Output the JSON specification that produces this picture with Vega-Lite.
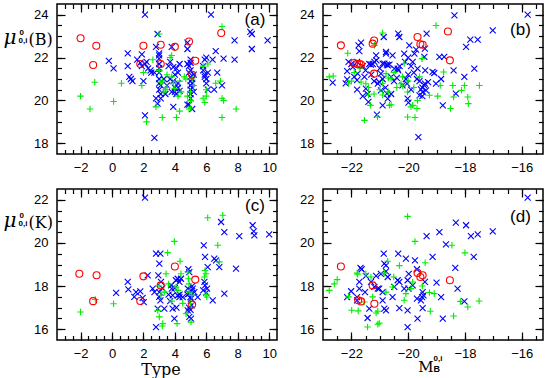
{
"$schema":"https://vega.github.io/schema/vega-lite/v6.json",
"padding":{"left":2,"top":2,"right":0,"bottom":0},
"background":"white",
"config":{
 "view":{"stroke":"black","strokeWidth":1.5},
 "axis":{"domain":false,"grid":false,"ticks":true,"tickColor":"black","tickOpacity":1,"tickWidth":1.2,"zindex":1,"labelColor":"black","labelFont":"Liberation Sans","labelFontSize":13,"labelOverlap":false,"labelFlush":false,"titleColor":"black","titleFont":"DejaVu Serif","titleFontWeight":"normal","titleAngle":0,"titleBaseline":"alphabetic"}
},
"datasets":{
"A":[
{"x":-0.2,"y":21.85,"g":"B"},{"x":0.1,"y":21.5,"g":"B"},{"x":1.0,"y":22.2,"g":"B"},{"x":1.0,"y":21.6,"g":"B"},{"x":1.1,"y":21.1,"g":"B"},{"x":1.2,"y":21.0,"g":"B"},{"x":1.3,"y":20.9,"g":"B"},{"x":1.6,"y":21.9,"g":"B"},{"x":1.8,"y":21.75,"g":"B"},{"x":1.9,"y":21.6,"g":"B"},{"x":1.9,"y":22.15,"g":"B"},{"x":2.0,"y":20.9,"g":"B"},{"x":2.1,"y":24.0,"g":"B"},{"x":2.1,"y":21.7,"g":"B"},{"x":2.2,"y":21.8,"g":"B"},{"x":2.3,"y":21.5,"g":"B"},{"x":2.1,"y":19.3,"g":"B"},{"x":2.5,"y":21.3,"g":"B"},{"x":2.45,"y":21.4,"g":"B"},{"x":2.7,"y":21.3,"g":"B"},{"x":2.7,"y":18.25,"g":"B"},{"x":2.8,"y":20.1,"g":"B"},{"x":2.9,"y":19.85,"g":"B"},{"x":2.8,"y":22.5,"g":"B"},{"x":2.9,"y":23.1,"g":"B"},{"x":3.0,"y":22.2,"g":"B"},{"x":3.0,"y":22.1,"g":"B"},{"x":3.0,"y":21.95,"g":"B"},{"x":3.0,"y":21.7,"g":"B"},{"x":3.0,"y":21.5,"g":"B"},{"x":3.0,"y":21.3,"g":"B"},{"x":3.0,"y":21.0,"g":"B"},{"x":3.0,"y":20.8,"g":"B"},{"x":3.0,"y":20.5,"g":"B"},{"x":3.1,"y":20.3,"g":"B"},{"x":3.1,"y":20.1,"g":"B"},{"x":3.1,"y":20.7,"g":"B"},{"x":3.3,"y":21.0,"g":"B"},{"x":3.4,"y":20.3,"g":"B"},{"x":3.5,"y":20.7,"g":"B"},{"x":3.6,"y":21.6,"g":"B"},{"x":3.7,"y":21.8,"g":"B"},{"x":3.7,"y":21.0,"g":"B"},{"x":3.8,"y":20.4,"g":"B"},{"x":3.8,"y":22.5,"g":"B"},{"x":3.9,"y":19.7,"g":"B"},{"x":3.9,"y":21.55,"g":"B"},{"x":3.9,"y":20.9,"g":"B"},{"x":4.0,"y":21.2,"g":"B"},{"x":4.0,"y":20.6,"g":"B"},{"x":4.0,"y":20.4,"g":"B"},{"x":4.1,"y":20.5,"g":"B"},{"x":4.1,"y":20.3,"g":"B"},{"x":4.1,"y":21.5,"g":"B"},{"x":4.2,"y":20.6,"g":"B"},{"x":4.2,"y":20.8,"g":"B"},{"x":4.2,"y":21.3,"g":"B"},{"x":4.3,"y":21.7,"g":"B"},{"x":4.3,"y":20.45,"g":"B"},{"x":4.8,"y":22.4,"g":"B"},{"x":4.8,"y":22.7,"g":"B"},{"x":4.8,"y":21.7,"g":"B"},{"x":4.9,"y":21.6,"g":"B"},{"x":4.9,"y":21.3,"g":"B"},{"x":5.0,"y":21.75,"g":"B"},{"x":5.0,"y":21.9,"g":"B"},{"x":5.0,"y":21.4,"g":"B"},{"x":5.0,"y":21.1,"g":"B"},{"x":5.0,"y":20.9,"g":"B"},{"x":5.0,"y":20.7,"g":"B"},{"x":5.0,"y":20.5,"g":"B"},{"x":5.0,"y":20.3,"g":"B"},{"x":5.0,"y":20.1,"g":"B"},{"x":4.9,"y":19.8,"g":"B"},{"x":4.8,"y":19.8,"g":"B"},{"x":5.1,"y":19.6,"g":"B"},{"x":5.1,"y":21.0,"g":"B"},{"x":5.1,"y":20.8,"g":"B"},{"x":5.1,"y":20.6,"g":"B"},{"x":5.2,"y":21.2,"g":"B"},{"x":5.2,"y":20.4,"g":"B"},{"x":5.8,"y":21.4,"g":"B"},{"x":5.8,"y":21.6,"g":"B"},{"x":5.9,"y":21.2,"g":"B"},{"x":5.9,"y":21.1,"g":"B"},{"x":6.0,"y":21.0,"g":"B"},{"x":6.0,"y":20.8,"g":"B"},{"x":5.9,"y":21.9,"g":"B"},{"x":6.0,"y":22.0,"g":"B"},{"x":6.1,"y":20.5,"g":"B"},{"x":6.1,"y":21.3,"g":"B"},{"x":6.4,"y":21.9,"g":"B"},{"x":6.6,"y":22.3,"g":"B"},{"x":6.5,"y":20.5,"g":"B"},{"x":6.7,"y":21.3,"g":"B"},{"x":7.0,"y":20.7,"g":"B"},{"x":7.1,"y":21.95,"g":"B"},{"x":7.8,"y":22.8,"g":"B"},{"x":7.8,"y":21.9,"g":"B"},{"x":8.8,"y":23.2,"g":"B"},{"x":8.9,"y":23.1,"g":"B"},{"x":8.9,"y":22.4,"g":"B"},{"x":9.9,"y":22.8,"g":"B"},{"x":6.3,"y":24.0,"g":"B"},
{"x":-2.0,"y":20.2,"g":"G"},{"x":-1.1,"y":20.85,"g":"G"},{"x":-1.4,"y":19.6,"g":"G"},{"x":0.1,"y":19.95,"g":"G"},{"x":0.6,"y":20.8,"g":"G"},{"x":1.9,"y":20.7,"g":"G"},{"x":2.0,"y":21.3,"g":"G"},{"x":2.2,"y":19.0,"g":"G"},{"x":2.6,"y":21.9,"g":"G"},{"x":2.8,"y":19.7,"g":"G"},{"x":3.0,"y":23.1,"g":"G"},{"x":3.2,"y":19.2,"g":"G"},{"x":3.0,"y":21.4,"g":"G"},{"x":3.1,"y":20.85,"g":"G"},{"x":3.2,"y":20.9,"g":"G"},{"x":3.3,"y":20.4,"g":"G"},{"x":3.4,"y":20.5,"g":"G"},{"x":3.5,"y":21.2,"g":"G"},{"x":3.5,"y":20.6,"g":"G"},{"x":3.7,"y":22.0,"g":"G"},{"x":3.8,"y":22.1,"g":"G"},{"x":3.8,"y":21.1,"g":"G"},{"x":3.9,"y":20.8,"g":"G"},{"x":4.0,"y":20.55,"g":"G"},{"x":4.1,"y":19.2,"g":"G"},{"x":4.3,"y":19.5,"g":"G"},{"x":4.2,"y":20.2,"g":"G"},{"x":4.3,"y":20.9,"g":"G"},{"x":4.4,"y":20.4,"g":"G"},{"x":4.6,"y":21.1,"g":"G"},{"x":4.7,"y":21.0,"g":"G"},{"x":4.8,"y":20.2,"g":"G"},{"x":4.9,"y":19.6,"g":"G"},{"x":5.0,"y":19.65,"g":"G"},{"x":5.0,"y":20.0,"g":"G"},{"x":5.0,"y":20.4,"g":"G"},{"x":5.1,"y":21.0,"g":"G"},{"x":5.2,"y":20.7,"g":"G"},{"x":5.8,"y":21.6,"g":"G"},{"x":5.8,"y":20.1,"g":"G"},{"x":5.9,"y":19.9,"g":"G"},{"x":6.0,"y":20.2,"g":"G"},{"x":6.0,"y":20.5,"g":"G"},{"x":6.1,"y":21.7,"g":"G"},{"x":6.6,"y":20.8,"g":"G"},{"x":6.9,"y":20.9,"g":"G"},{"x":7.0,"y":20.1,"g":"G"},{"x":7.1,"y":20.0,"g":"G"},{"x":7.0,"y":19.2,"g":"G"},{"x":7.9,"y":19.6,"g":"G"},{"x":7.0,"y":23.45,"g":"G"},
{"x":-2.0,"y":22.9,"g":"R"},{"x":-1.0,"y":22.55,"g":"R"},{"x":-1.2,"y":21.65,"g":"R"},{"x":2.0,"y":22.55,"g":"R"},{"x":1.8,"y":21.7,"g":"R"},{"x":3.1,"y":22.6,"g":"R"},{"x":3.1,"y":21.7,"g":"R"},{"x":4.0,"y":22.5,"g":"R"},{"x":4.9,"y":22.75,"g":"R"},{"x":5.3,"y":21.85,"g":"R"},{"x":5.1,"y":21.2,"g":"R"},{"x":6.95,"y":23.15,"g":"R"}
],
"B":[
{"x":-22.66,"y":20.83,"g":"B"},{"x":-22.15,"y":21.37,"g":"B"},{"x":-22.15,"y":20.98,"g":"B"},{"x":-22.1,"y":21.8,"g":"B"},{"x":-22.0,"y":21.7,"g":"B"},{"x":-21.95,"y":21.55,"g":"B"},{"x":-21.8,"y":21.8,"g":"B"},{"x":-21.75,"y":22.57,"g":"B"},{"x":-21.72,"y":22.3,"g":"B"},{"x":-21.78,"y":21.25,"g":"B"},{"x":-21.8,"y":20.5,"g":"B"},{"x":-21.8,"y":20.95,"g":"B"},{"x":-21.66,"y":22.7,"g":"B"},{"x":-21.54,"y":21.1,"g":"B"},{"x":-21.49,"y":20.55,"g":"B"},{"x":-21.43,"y":20.3,"g":"B"},{"x":-21.4,"y":19.93,"g":"B"},{"x":-21.37,"y":21.7,"g":"B"},{"x":-21.31,"y":21.67,"g":"B"},{"x":-21.25,"y":21.7,"g":"B"},{"x":-21.19,"y":21.8,"g":"B"},{"x":-21.13,"y":22.1,"g":"B"},{"x":-21.12,"y":21.87,"g":"B"},{"x":-21.07,"y":20.78,"g":"B"},{"x":-21.02,"y":20.86,"g":"B"},{"x":-20.96,"y":20.47,"g":"B"},{"x":-20.96,"y":21.25,"g":"B"},{"x":-20.9,"y":21.72,"g":"B"},{"x":-20.84,"y":21.72,"g":"B"},{"x":-20.86,"y":22.96,"g":"B"},{"x":-20.78,"y":22.26,"g":"B"},{"x":-20.78,"y":22.18,"g":"B"},{"x":-20.75,"y":21.67,"g":"B"},{"x":-20.72,"y":21.64,"g":"B"},{"x":-20.66,"y":21.67,"g":"B"},{"x":-20.75,"y":20.32,"g":"B"},{"x":-20.9,"y":19.77,"g":"B"},{"x":-21.1,"y":19.34,"g":"B"},{"x":-20.72,"y":20.08,"g":"B"},{"x":-20.55,"y":22.1,"g":"B"},{"x":-20.49,"y":21.48,"g":"B"},{"x":-20.4,"y":21.05,"g":"B"},{"x":-20.37,"y":21.48,"g":"B"},{"x":-20.35,"y":21.4,"g":"B"},{"x":-20.35,"y":23.12,"g":"B"},{"x":-20.31,"y":22.96,"g":"B"},{"x":-20.08,"y":21.0,"g":"B"},{"x":-20.04,"y":20.78,"g":"B"},{"x":-20.02,"y":20.08,"g":"B"},{"x":-19.99,"y":19.9,"g":"B"},{"x":-19.96,"y":22.57,"g":"B"},{"x":-20.14,"y":22.18,"g":"B"},{"x":-20.11,"y":21.8,"g":"B"},{"x":-19.84,"y":21.8,"g":"B"},{"x":-19.78,"y":22.18,"g":"B"},{"x":-19.72,"y":22.37,"g":"B"},{"x":-19.69,"y":21.0,"g":"B"},{"x":-19.67,"y":21.48,"g":"B"},{"x":-19.6,"y":20.24,"g":"B"},{"x":-19.55,"y":20.52,"g":"B"},{"x":-19.49,"y":20.39,"g":"B"},{"x":-19.43,"y":20.7,"g":"B"},{"x":-19.41,"y":20.78,"g":"B"},{"x":-19.37,"y":20.47,"g":"B"},{"x":-19.43,"y":22.03,"g":"B"},{"x":-19.41,"y":22.42,"g":"B"},{"x":-19.4,"y":21.4,"g":"B"},{"x":-19.64,"y":18.29,"g":"B"},{"x":-19.35,"y":23.12,"g":"B"},{"x":-19.14,"y":21.33,"g":"B"},{"x":-19.08,"y":21.28,"g":"B"},{"x":-19.02,"y":20.78,"g":"B"},{"x":-18.9,"y":22.03,"g":"B"},{"x":-18.73,"y":22.03,"g":"B"},{"x":-18.84,"y":21.0,"g":"B"},{"x":-18.78,"y":19.77,"g":"B"},{"x":-18.4,"y":21.4,"g":"B"},{"x":-18.32,"y":20.32,"g":"B"},{"x":-18.37,"y":23.97,"g":"B"},{"x":-18.02,"y":21.1,"g":"B"},{"x":-17.96,"y":22.5,"g":"B"},{"x":-17.81,"y":22.84,"g":"B"},{"x":-17.55,"y":22.84,"g":"B"},{"x":-17.67,"y":21.48,"g":"B"},{"x":-17.02,"y":23.27,"g":"B"},{"x":-15.79,"y":24.0,"g":"B"},{"x":-21.6,"y":21.6,"g":"B"},{"x":-21.5,"y":21.4,"g":"B"},{"x":-21.3,"y":21.2,"g":"B"},{"x":-21.2,"y":20.9,"g":"B"},{"x":-21.0,"y":21.5,"g":"B"},{"x":-20.9,"y":21.0,"g":"B"},{"x":-20.8,"y":20.6,"g":"B"},{"x":-20.6,"y":21.1,"g":"B"},{"x":-20.5,"y":20.9,"g":"B"},{"x":-20.3,"y":21.6,"g":"B"},{"x":-20.2,"y":20.7,"g":"B"},{"x":-20.0,"y":21.2,"g":"B"},{"x":-19.9,"y":20.5,"g":"B"},{"x":-19.8,"y":21.3,"g":"B"},{"x":-19.6,"y":20.9,"g":"B"},{"x":-19.5,"y":20.6,"g":"B"},{"x":-19.3,"y":20.85,"g":"B"},{"x":-19.5,"y":20.2,"g":"B"},{"x":-22.2,"y":20.8,"g":"B"},{"x":-21.9,"y":21.1,"g":"B"},{"x":-21.6,"y":20.2,"g":"B"},{"x":-20.6,"y":20.3,"g":"B"},{"x":-20.0,"y":22.0,"g":"B"},{"x":-19.9,"y":21.6,"g":"B"},
{"x":-22.78,"y":21.1,"g":"G"},{"x":-22.64,"y":21.14,"g":"G"},{"x":-22.13,"y":22.2,"g":"G"},{"x":-22.0,"y":20.9,"g":"G"},{"x":-21.66,"y":20.86,"g":"G"},{"x":-21.49,"y":20.78,"g":"G"},{"x":-21.54,"y":19.07,"g":"G"},{"x":-21.33,"y":19.77,"g":"G"},{"x":-21.08,"y":19.23,"g":"G"},{"x":-21.19,"y":22.57,"g":"G"},{"x":-20.9,"y":23.15,"g":"G"},{"x":-20.78,"y":21.25,"g":"G"},{"x":-20.7,"y":21.05,"g":"G"},{"x":-20.6,"y":21.02,"g":"G"},{"x":-20.66,"y":19.77,"g":"G"},{"x":-20.25,"y":20.78,"g":"G"},{"x":-20.19,"y":20.67,"g":"G"},{"x":-20.14,"y":21.72,"g":"G"},{"x":-20.02,"y":20.39,"g":"G"},{"x":-19.9,"y":19.7,"g":"G"},{"x":-19.84,"y":19.77,"g":"G"},{"x":-20.02,"y":19.23,"g":"G"},{"x":-19.76,"y":19.2,"g":"G"},{"x":-19.69,"y":19.62,"g":"G"},{"x":-19.67,"y":20.0,"g":"G"},{"x":-19.51,"y":21.95,"g":"G"},{"x":-19.25,"y":20.24,"g":"G"},{"x":-19.02,"y":23.5,"g":"G"},{"x":-18.96,"y":20.2,"g":"G"},{"x":-18.87,"y":20.7,"g":"G"},{"x":-18.75,"y":21.33,"g":"G"},{"x":-18.51,"y":19.62,"g":"G"},{"x":-18.43,"y":20.7,"g":"G"},{"x":-18.4,"y":20.16,"g":"G"},{"x":-18.12,"y":20.47,"g":"G"},{"x":-18.02,"y":20.7,"g":"G"},{"x":-17.9,"y":20.16,"g":"G"},{"x":-17.88,"y":19.85,"g":"G"},{"x":-17.49,"y":20.7,"g":"G"},{"x":-22.1,"y":20.8,"g":"G"},{"x":-21.9,"y":21.3,"g":"G"},{"x":-21.7,"y":21.5,"g":"G"},{"x":-21.4,"y":20.6,"g":"G"},{"x":-21.2,"y":20.3,"g":"G"},{"x":-21.0,"y":20.5,"g":"G"},{"x":-20.9,"y":20.8,"g":"G"},{"x":-20.7,"y":20.4,"g":"G"},{"x":-20.5,"y":21.3,"g":"G"},{"x":-20.4,"y":20.6,"g":"G"},{"x":-20.2,"y":21.1,"g":"G"},{"x":-20.0,"y":20.9,"g":"G"},{"x":-19.8,"y":20.6,"g":"G"},{"x":-19.6,"y":21.1,"g":"G"},{"x":-21.4,"y":20.25,"g":"G"},{"x":-20.9,"y":20.25,"g":"G"},{"x":-20.6,"y":19.8,"g":"G"},
{"x":-22.37,"y":22.57,"g":"R"},{"x":-21.9,"y":21.75,"g":"R"},{"x":-21.8,"y":21.7,"g":"R"},{"x":-21.72,"y":21.7,"g":"R"},{"x":-21.66,"y":21.68,"g":"R"},{"x":-21.25,"y":22.65,"g":"R"},{"x":-21.2,"y":22.8,"g":"R"},{"x":-21.2,"y":21.25,"g":"R"},{"x":-19.67,"y":22.96,"g":"R"},{"x":-19.57,"y":22.62,"g":"R"},{"x":-19.49,"y":22.6,"g":"R"},{"x":-18.6,"y":23.22,"g":"R"},{"x":-18.53,"y":21.87,"g":"R"}
],
"C":[
{"x":2.1,"y":22.1,"g":"B"},{"x":1.0,"y":18.19,"g":"B"},{"x":1.04,"y":17.85,"g":"B"},{"x":0.26,"y":17.68,"g":"B"},{"x":1.42,"y":17.5,"g":"B"},{"x":1.53,"y":17.72,"g":"B"},{"x":1.8,"y":17.75,"g":"B"},{"x":1.95,"y":17.45,"g":"B"},{"x":2.02,"y":17.26,"g":"B"},{"x":2.27,"y":18.5,"g":"B"},{"x":2.59,"y":17.88,"g":"B"},{"x":2.7,"y":17.72,"g":"B"},{"x":2.8,"y":19.5,"g":"B"},{"x":3.08,"y":19.5,"g":"B"},{"x":3.01,"y":19.04,"g":"B"},{"x":2.95,"y":18.5,"g":"B"},{"x":3.12,"y":18.19,"g":"B"},{"x":3.01,"y":17.72,"g":"B"},{"x":3.08,"y":17.34,"g":"B"},{"x":2.91,"y":16.95,"g":"B"},{"x":2.8,"y":16.1,"g":"B"},{"x":3.33,"y":16.95,"g":"B"},{"x":3.76,"y":18.03,"g":"B"},{"x":3.8,"y":17.88,"g":"B"},{"x":3.86,"y":17.57,"g":"B"},{"x":3.86,"y":16.95,"g":"B"},{"x":3.97,"y":16.49,"g":"B"},{"x":4.07,"y":18.27,"g":"B"},{"x":4.18,"y":18.34,"g":"B"},{"x":4.29,"y":18.19,"g":"B"},{"x":4.39,"y":18.34,"g":"B"},{"x":4.18,"y":17.57,"g":"B"},{"x":4.29,"y":17.49,"g":"B"},{"x":4.5,"y":17.49,"g":"B"},{"x":4.86,"y":18.78,"g":"B"},{"x":4.92,"y":18.65,"g":"B"},{"x":4.82,"y":17.88,"g":"B"},{"x":4.92,"y":17.65,"g":"B"},{"x":4.99,"y":17.49,"g":"B"},{"x":5.03,"y":17.42,"g":"B"},{"x":5.07,"y":17.1,"g":"B"},{"x":4.82,"y":16.87,"g":"B"},{"x":4.92,"y":16.57,"g":"B"},{"x":5.03,"y":16.49,"g":"B"},{"x":5.14,"y":17.88,"g":"B"},{"x":5.24,"y":17.72,"g":"B"},{"x":5.45,"y":17.49,"g":"B"},{"x":5.84,"y":19.89,"g":"B"},{"x":5.92,"y":19.35,"g":"B"},{"x":5.88,"y":18.19,"g":"B"},{"x":5.92,"y":18.03,"g":"B"},{"x":6.05,"y":17.88,"g":"B"},{"x":6.09,"y":18.88,"g":"B"},{"x":6.41,"y":17.34,"g":"B"},{"x":6.51,"y":19.27,"g":"B"},{"x":6.62,"y":19.19,"g":"B"},{"x":6.83,"y":18.88,"g":"B"},{"x":6.94,"y":20.97,"g":"B"},{"x":7.15,"y":17.65,"g":"B"},{"x":7.15,"y":20.5,"g":"B"},{"x":7.89,"y":18.81,"g":"B"},{"x":8.1,"y":20.32,"g":"B"},{"x":8.95,"y":20.82,"g":"B"},{"x":9.02,"y":20.54,"g":"B"},{"x":9.06,"y":20.35,"g":"B"},{"x":10.0,"y":20.4,"g":"B"},{"x":3.0,"y":17.5,"g":"B"},{"x":3.2,"y":17.9,"g":"B"},{"x":3.6,"y":17.6,"g":"B"},{"x":3.7,"y":17.3,"g":"B"},{"x":4.0,"y":17.9,"g":"B"},{"x":4.1,"y":17.0,"g":"B"},{"x":4.3,"y":17.6,"g":"B"},{"x":4.8,"y":17.6,"g":"B"},{"x":4.9,"y":17.0,"g":"B"},{"x":5.0,"y":16.9,"g":"B"},{"x":5.0,"y":17.8,"g":"B"},{"x":5.1,"y":18.0,"g":"B"},{"x":5.8,"y":17.8,"g":"B"},{"x":6.0,"y":17.7,"g":"B"},
{"x":-2.0,"y":16.8,"g":"G"},{"x":-1.06,"y":17.38,"g":"G"},{"x":0.1,"y":17.18,"g":"G"},{"x":2.91,"y":16.87,"g":"G"},{"x":3.01,"y":16.57,"g":"G"},{"x":3.23,"y":16.26,"g":"G"},{"x":3.2,"y":16.15,"g":"G"},{"x":3.12,"y":17.57,"g":"G"},{"x":3.33,"y":17.72,"g":"G"},{"x":3.44,"y":18.57,"g":"G"},{"x":3.54,"y":19.55,"g":"G"},{"x":3.97,"y":20.07,"g":"G"},{"x":4.33,"y":19.15,"g":"G"},{"x":4.07,"y":17.95,"g":"G"},{"x":4.14,"y":16.26,"g":"G"},{"x":4.39,"y":18.57,"g":"G"},{"x":4.82,"y":18.65,"g":"G"},{"x":4.86,"y":18.34,"g":"G"},{"x":4.92,"y":17.72,"g":"G"},{"x":4.71,"y":16.72,"g":"G"},{"x":5.03,"y":16.33,"g":"G"},{"x":5.07,"y":17.57,"g":"G"},{"x":5.92,"y":18.72,"g":"G"},{"x":5.98,"y":18.57,"g":"G"},{"x":5.88,"y":18.42,"g":"G"},{"x":5.98,"y":17.6,"g":"G"},{"x":6.03,"y":17.49,"g":"G"},{"x":6.09,"y":21.17,"g":"G"},{"x":7.05,"y":21.28,"g":"G"},{"x":6.73,"y":19.89,"g":"G"},{"x":6.83,"y":19.12,"g":"G"},{"x":3.0,"y":18.0,"g":"G"},{"x":3.6,"y":18.1,"g":"G"},{"x":3.8,"y":17.3,"g":"G"},{"x":4.2,"y":17.8,"g":"G"},{"x":4.5,"y":17.2,"g":"G"},{"x":4.9,"y":18.1,"g":"G"},{"x":5.0,"y":17.2,"g":"G"},
{"x":-2.08,"y":18.57,"g":"R"},{"x":-0.98,"y":18.5,"g":"R"},{"x":-1.2,"y":17.3,"g":"R"},{"x":1.8,"y":17.31,"g":"R"},{"x":2.0,"y":18.45,"g":"R"},{"x":3.1,"y":18.03,"g":"R"},{"x":4.0,"y":18.91,"g":"R"},{"x":5.3,"y":18.3,"g":"R"},{"x":5.1,"y":17.14,"g":"R"}
],
"D":[
{"x":-22.15,"y":17.49,"g":"B"},{"x":-22.01,"y":17.76,"g":"B"},{"x":-21.8,"y":17.49,"g":"B"},{"x":-21.8,"y":17.34,"g":"B"},{"x":-21.72,"y":17.88,"g":"B"},{"x":-21.72,"y":18.19,"g":"B"},{"x":-21.68,"y":18.84,"g":"B"},{"x":-21.64,"y":18.78,"g":"B"},{"x":-21.52,"y":17.72,"g":"B"},{"x":-21.49,"y":18.47,"g":"B"},{"x":-21.43,"y":16.52,"g":"B"},{"x":-21.37,"y":16.95,"g":"B"},{"x":-21.31,"y":18.19,"g":"B"},{"x":-21.19,"y":17.96,"g":"B"},{"x":-21.13,"y":18.47,"g":"B"},{"x":-21.07,"y":17.88,"g":"B"},{"x":-21.02,"y":17.88,"g":"B"},{"x":-20.96,"y":18.57,"g":"B"},{"x":-20.9,"y":17.72,"g":"B"},{"x":-20.84,"y":19.04,"g":"B"},{"x":-20.78,"y":18.96,"g":"B"},{"x":-20.78,"y":18.68,"g":"B"},{"x":-20.72,"y":18.42,"g":"B"},{"x":-20.86,"y":19.5,"g":"B"},{"x":-20.84,"y":16.95,"g":"B"},{"x":-20.78,"y":16.87,"g":"B"},{"x":-20.9,"y":17.34,"g":"B"},{"x":-20.55,"y":17.49,"g":"B"},{"x":-20.49,"y":17.96,"g":"B"},{"x":-20.37,"y":18.27,"g":"B"},{"x":-20.31,"y":18.19,"g":"B"},{"x":-20.35,"y":19.5,"g":"B"},{"x":-20.31,"y":16.98,"g":"B"},{"x":-20.14,"y":17.88,"g":"B"},{"x":-20.08,"y":19.27,"g":"B"},{"x":-20.02,"y":18.27,"g":"B"},{"x":-19.99,"y":17.88,"g":"B"},{"x":-19.98,"y":18.57,"g":"B"},{"x":-20.02,"y":16.1,"g":"B"},{"x":-20.02,"y":16.87,"g":"B"},{"x":-19.84,"y":18.03,"g":"B"},{"x":-19.76,"y":19.19,"g":"B"},{"x":-19.69,"y":18.78,"g":"B"},{"x":-19.67,"y":16.49,"g":"B"},{"x":-19.69,"y":17.42,"g":"B"},{"x":-19.55,"y":17.34,"g":"B"},{"x":-19.51,"y":17.49,"g":"B"},{"x":-19.49,"y":17.72,"g":"B"},{"x":-19.46,"y":17.57,"g":"B"},{"x":-19.49,"y":16.98,"g":"B"},{"x":-19.41,"y":18.19,"g":"B"},{"x":-19.35,"y":20.32,"g":"B"},{"x":-19.14,"y":19.35,"g":"B"},{"x":-19.0,"y":18.16,"g":"B"},{"x":-18.9,"y":20.5,"g":"B"},{"x":-18.84,"y":17.49,"g":"B"},{"x":-18.78,"y":16.49,"g":"B"},{"x":-18.67,"y":19.93,"g":"B"},{"x":-18.34,"y":18.84,"g":"B"},{"x":-18.26,"y":17.88,"g":"B"},{"x":-18.32,"y":20.94,"g":"B"},{"x":-17.96,"y":20.82,"g":"B"},{"x":-18.02,"y":17.29,"g":"B"},{"x":-17.79,"y":20.32,"g":"B"},{"x":-17.69,"y":19.35,"g":"B"},{"x":-17.55,"y":20.4,"g":"B"},{"x":-17.02,"y":20.54,"g":"B"},{"x":-15.79,"y":22.1,"g":"B"},
{"x":-22.78,"y":17.8,"g":"G"},{"x":-22.6,"y":18.1,"g":"G"},{"x":-22.5,"y":18.3,"g":"G"},{"x":-22.1,"y":17.5,"g":"G"},{"x":-21.99,"y":16.88,"g":"G"},{"x":-21.8,"y":18.6,"g":"G"},{"x":-21.78,"y":18.55,"g":"G"},{"x":-21.76,"y":16.85,"g":"G"},{"x":-21.55,"y":17.26,"g":"G"},{"x":-21.49,"y":18.57,"g":"G"},{"x":-21.43,"y":16.1,"g":"G"},{"x":-21.31,"y":18.42,"g":"G"},{"x":-21.25,"y":17.5,"g":"G"},{"x":-21.13,"y":16.75,"g":"G"},{"x":-21.07,"y":16.83,"g":"G"},{"x":-21.07,"y":16.23,"g":"G"},{"x":-21.02,"y":16.28,"g":"G"},{"x":-20.84,"y":18.6,"g":"G"},{"x":-20.72,"y":19.15,"g":"G"},{"x":-20.78,"y":17.72,"g":"G"},{"x":-20.55,"y":17.96,"g":"G"},{"x":-20.51,"y":18.42,"g":"G"},{"x":-20.31,"y":18.95,"g":"G"},{"x":-20.14,"y":17.34,"g":"G"},{"x":-20.08,"y":17.65,"g":"G"},{"x":-20.02,"y":21.23,"g":"G"},{"x":-19.9,"y":17.88,"g":"G"},{"x":-19.84,"y":18.19,"g":"G"},{"x":-19.76,"y":20.07,"g":"G"},{"x":-19.5,"y":18.0,"g":"G"},{"x":-19.4,"y":19.08,"g":"G"},{"x":-19.25,"y":17.7,"g":"G"},{"x":-19.22,"y":16.83,"g":"G"},{"x":-19.08,"y":17.65,"g":"G"},{"x":-18.46,"y":19.89,"g":"G"},{"x":-18.4,"y":16.61,"g":"G"},{"x":-18.16,"y":17.29,"g":"G"},{"x":-18.0,"y":19.54,"g":"G"},{"x":-17.9,"y":17.03,"g":"G"},{"x":-17.5,"y":17.31,"g":"G"},
{"x":-22.37,"y":18.91,"g":"R"},{"x":-21.76,"y":17.34,"g":"R"},{"x":-21.66,"y":17.29,"g":"R"},{"x":-21.25,"y":18.03,"g":"R"},{"x":-21.19,"y":17.18,"g":"R"},{"x":-19.67,"y":18.61,"g":"R"},{"x":-19.57,"y":18.42,"g":"R"},{"x":-19.49,"y":18.5,"g":"R"},{"x":-18.53,"y":18.27,"g":"R"}
]
},
"columns":2,
"spacing":{"row":35,"column":46},
"bounds":"flush",
"concat":[
{"width":220,"height":150,"resolve":{"axis":{"x":"independent","y":"independent"}},
 "layer":[
  {"data":{"name":"A"},"mark":{"type":"point","opacity":0},
   "encoding":{
    "x":{"field":"x","type":"quantitative","scale":{"domain":[-3.5,10.5],"nice":false,"zero":false},"axis":{"ticks":true,"tickColor":"black","tickWidth":1.2,"tickOpacity":1,"zindex":1,"orient":"bottom","offset":-4.5,"values":[-3,-2.5,-2,-1.5,-1,-0.5,0,0.5,1,1.5,2,2.5,3,3.5,4,4.5,5,5.5,6,6.5,7,7.5,8,8.5,9,9.5,10],"tickSize":4.5,"labels":false,"title":null}},
    "y":{"field":"y","type":"quantitative","scale":{"domain":[17.5,24.5],"nice":false,"zero":false},"axis":{"ticks":true,"tickColor":"black","tickWidth":1.2,"tickOpacity":1,"zindex":1,"orient":"left","offset":-4.5,"values":[18,18.5,19,19.5,20,20.5,21,21.5,22,22.5,23,23.5,24],"tickSize":4.5,"labels":false,"title":"μ","titleFontStyle":"italic","titleFontSize":20,"titleAlign":"left","titleX":-58.5,"titleY":39}}}},
  {"data":{"name":"A"},"mark":{"type":"point","opacity":0},
   "encoding":{
    "x":{"field":"x","type":"quantitative","scale":{"domain":[-3.5,10.5],"nice":false,"zero":false},"axis":{"ticks":true,"tickColor":"black","tickWidth":1.2,"tickOpacity":1,"zindex":1,"orient":"top","offset":-8,"values":[-2,0,2,4,6,8,10],"tickSize":8,"labels":false,"title":null}},
    "y":{"field":"y","type":"quantitative","scale":{"domain":[17.5,24.5],"nice":false,"zero":false},"axis":{"ticks":true,"tickColor":"black","tickWidth":1.2,"tickOpacity":1,"zindex":1,"orient":"right","offset":-8,"values":[18,20,22,24],"tickSize":8,"labels":false,"title":"0","titleFont":"Liberation Sans","titleFontWeight":"bold","titleFontSize":8,"titleAlign":"left","titleX":-250,"titleY":30}}}},
  {"data":{"name":"A"},"mark":{"type":"point","opacity":0},
   "encoding":{
    "x":{"field":"x","type":"quantitative","scale":{"domain":[-3.5,10.5],"nice":false,"zero":false},"axis":{"ticks":true,"tickColor":"black","tickWidth":1.2,"tickOpacity":1,"zindex":1,"orient":"top","offset":-4.5,"values":[-3,-2.5,-2,-1.5,-1,-0.5,0,0.5,1,1.5,2,2.5,3,3.5,4,4.5,5,5.5,6,6.5,7,7.5,8,8.5,9,9.5,10],"tickSize":4.5,"labels":false,"title":"(a)","titleFont":"Liberation Sans","titleFontSize":17,"titleAlign":"center","titleBaseline":"middle","titleX":197.5,"titleY":10.5}},
    "y":{"field":"y","type":"quantitative","scale":{"domain":[17.5,24.5],"nice":false,"zero":false},"axis":{"ticks":true,"tickColor":"black","tickWidth":1.2,"tickOpacity":1,"zindex":1,"orient":"right","offset":-4.5,"values":[18,18.5,19,19.5,20,20.5,21,21.5,22,22.5,23,23.5,24],"tickSize":4.5,"labels":false,"title":"0,i","titleFont":"Liberation Sans","titleFontWeight":"bold","titleFontSize":8,"titleAlign":"left","titleX":-254.5,"titleY":38}}}},
  {"data":{"name":"A"},"mark":{"type":"point","opacity":0},
   "encoding":{
    "x":{"field":"x","type":"quantitative","scale":{"domain":[-3.5,10.5],"nice":false,"zero":false},"axis":{"ticks":true,"tickColor":"black","tickWidth":1.2,"tickOpacity":1,"zindex":1,"orient":"bottom","offset":-8,"values":[-2,0,2,4,6,8,10],"tickSize":8,"labels":false,"title":null}},
    "y":{"field":"y","type":"quantitative","scale":{"domain":[17.5,24.5],"nice":false,"zero":false},"axis":{"ticks":true,"tickColor":"black","tickWidth":1.2,"tickOpacity":1,"zindex":1,"orient":"left","offset":-8,"values":[18,20,22,24],"tickSize":8,"labels":false,"title":null}}}},
  {"data":{"name":"A"},"mark":{"type":"point","filled":false,"strokeWidth":1.1,"opacity":1},
   "encoding":{
    "x":{"field":"x","type":"quantitative","scale":{"domain":[-3.5,10.5],"nice":false,"zero":false},"axis":{"orient":"bottom","ticks":false,"tickSize":0,"values":[-2,0,2,4,6,8,10],"labelPadding":7,"title":null}},
    "y":{"field":"y","type":"quantitative","scale":{"domain":[17.5,24.5],"nice":false,"zero":false},"axis":{"orient":"left","ticks":false,"tickSize":0,"values":[18,20,22,24],"labelPadding":9,"title":"(B)","titleFontSize":16,"titleAlign":"left","titleX":-29,"titleY":40}},
    "color":{"field":"g","type":"nominal","scale":{"domain":["B","G","R"],"range":["#0000ff","#00ee00","#ff0000"]},"legend":null},
    "shape":{"field":"g","type":"nominal","scale":{"domain":["B","G","R"],"range":["M-1,-1L1,1M-1,1L1,-1","M-1,0L1,0M0,-1L0,1","circle"]},"legend":null},
    "size":{"field":"g","type":"nominal","scale":{"domain":["B","G","R"],"range":[36,49,45]},"legend":null}}}
 ]},
{"width":220,"height":150,"resolve":{"axis":{"x":"independent","y":"independent"}},
 "layer":[
  {"data":{"name":"B"},"mark":{"type":"point","opacity":0},
   "encoding":{
    "x":{"field":"x","type":"quantitative","scale":{"domain":[-23,-15.25],"nice":false,"zero":false},"axis":{"ticks":true,"tickColor":"black","tickWidth":1.2,"tickOpacity":1,"zindex":1,"orient":"bottom","offset":-4.5,"values":[-22.5,-22,-21.5,-21,-20.5,-20,-19.5,-19,-18.5,-18,-17.5,-17,-16.5,-16,-15.5],"tickSize":4.5,"labels":false,"title":null}},
    "y":{"field":"y","type":"quantitative","scale":{"domain":[17.5,24.5],"nice":false,"zero":false},"axis":{"ticks":true,"tickColor":"black","tickWidth":1.2,"tickOpacity":1,"zindex":1,"orient":"left","offset":-4.5,"values":[18,18.5,19,19.5,20,20.5,21,21.5,22,22.5,23,23.5,24],"tickSize":4.5,"labels":false,"title":null}}}},
  {"data":{"name":"B"},"mark":{"type":"point","opacity":0},
   "encoding":{
    "x":{"field":"x","type":"quantitative","scale":{"domain":[-23,-15.25],"nice":false,"zero":false},"axis":{"ticks":true,"tickColor":"black","tickWidth":1.2,"tickOpacity":1,"zindex":1,"orient":"top","offset":-8,"values":[-22,-20,-18,-16],"tickSize":8,"labels":false,"title":null}},
    "y":{"field":"y","type":"quantitative","scale":{"domain":[17.5,24.5],"nice":false,"zero":false},"axis":{"ticks":true,"tickColor":"black","tickWidth":1.2,"tickOpacity":1,"zindex":1,"orient":"right","offset":-8,"values":[18,20,22,24],"tickSize":8,"labels":false,"title":null}}}},
  {"data":{"name":"B"},"mark":{"type":"point","opacity":0},
   "encoding":{
    "x":{"field":"x","type":"quantitative","scale":{"domain":[-23,-15.25],"nice":false,"zero":false},"axis":{"ticks":true,"tickColor":"black","tickWidth":1.2,"tickOpacity":1,"zindex":1,"orient":"top","offset":-4.5,"values":[-22.5,-22,-21.5,-21,-20.5,-20,-19.5,-19,-18.5,-18,-17.5,-17,-16.5,-16,-15.5],"tickSize":4.5,"labels":false,"title":"(b)","titleFont":"Liberation Sans","titleFontSize":17,"titleAlign":"center","titleBaseline":"middle","titleX":197,"titleY":21}},
    "y":{"field":"y","type":"quantitative","scale":{"domain":[17.5,24.5],"nice":false,"zero":false},"axis":{"ticks":true,"tickColor":"black","tickWidth":1.2,"tickOpacity":1,"zindex":1,"orient":"right","offset":-4.5,"values":[18,18.5,19,19.5,20,20.5,21,21.5,22,22.5,23,23.5,24],"tickSize":4.5,"labels":false,"title":null}}}},
  {"data":{"name":"B"},"mark":{"type":"point","opacity":0},
   "encoding":{
    "x":{"field":"x","type":"quantitative","scale":{"domain":[-23,-15.25],"nice":false,"zero":false},"axis":{"ticks":true,"tickColor":"black","tickWidth":1.2,"tickOpacity":1,"zindex":1,"orient":"bottom","offset":-8,"values":[-22,-20,-18,-16],"tickSize":8,"labels":false,"title":null}},
    "y":{"field":"y","type":"quantitative","scale":{"domain":[17.5,24.5],"nice":false,"zero":false},"axis":{"ticks":true,"tickColor":"black","tickWidth":1.2,"tickOpacity":1,"zindex":1,"orient":"left","offset":-8,"values":[18,20,22,24],"tickSize":8,"labels":false,"title":null}}}},
  {"data":{"name":"B"},"mark":{"type":"point","filled":false,"strokeWidth":1.1,"opacity":1},
   "encoding":{
    "x":{"field":"x","type":"quantitative","scale":{"domain":[-23,-15.25],"nice":false,"zero":false},"axis":{"orient":"bottom","ticks":false,"tickSize":0,"values":[-22,-20,-18,-16],"labelPadding":7,"title":null}},
    "y":{"field":"y","type":"quantitative","scale":{"domain":[17.5,24.5],"nice":false,"zero":false},"axis":{"orient":"left","ticks":false,"tickSize":0,"values":[18,20,22,24],"labelPadding":9,"title":null}},
    "color":{"field":"g","type":"nominal","scale":{"domain":["B","G","R"],"range":["#0000ff","#00ee00","#ff0000"]},"legend":null},
    "shape":{"field":"g","type":"nominal","scale":{"domain":["B","G","R"],"range":["M-1,-1L1,1M-1,1L1,-1","M-1,0L1,0M0,-1L0,1","circle"]},"legend":null},
    "size":{"field":"g","type":"nominal","scale":{"domain":["B","G","R"],"range":[36,49,45]},"legend":null}}}
 ]},
{"width":220,"height":151,"resolve":{"axis":{"x":"independent","y":"independent"}},
 "layer":[
  {"data":{"name":"C"},"mark":{"type":"point","opacity":0},
   "encoding":{
    "x":{"field":"x","type":"quantitative","scale":{"domain":[-3.5,10.5],"nice":false,"zero":false},"axis":{"ticks":true,"tickColor":"black","tickWidth":1.2,"tickOpacity":1,"zindex":1,"orient":"bottom","offset":-4.5,"values":[-3,-2.5,-2,-1.5,-1,-0.5,0,0.5,1,1.5,2,2.5,3,3.5,4,4.5,5,5.5,6,6.5,7,7.5,8,8.5,9,9.5,10],"tickSize":4.5,"labels":false,"title":null}},
    "y":{"field":"y","type":"quantitative","scale":{"domain":[15.5,22.5],"nice":false,"zero":false},"axis":{"ticks":true,"tickColor":"black","tickWidth":1.2,"tickOpacity":1,"zindex":1,"orient":"left","offset":-4.5,"values":[16,16.5,17,17.5,18,18.5,19,19.5,20,20.5,21,21.5,22],"tickSize":4.5,"labels":false,"title":"μ","titleFontStyle":"italic","titleFontSize":20,"titleAlign":"left","titleX":-58.5,"titleY":37}}}},
  {"data":{"name":"C"},"mark":{"type":"point","opacity":0},
   "encoding":{
    "x":{"field":"x","type":"quantitative","scale":{"domain":[-3.5,10.5],"nice":false,"zero":false},"axis":{"ticks":true,"tickColor":"black","tickWidth":1.2,"tickOpacity":1,"zindex":1,"orient":"top","offset":-8,"values":[-2,0,2,4,6,8,10],"tickSize":8,"labels":false,"title":null}},
    "y":{"field":"y","type":"quantitative","scale":{"domain":[15.5,22.5],"nice":false,"zero":false},"axis":{"ticks":true,"tickColor":"black","tickWidth":1.2,"tickOpacity":1,"zindex":1,"orient":"right","offset":-8,"values":[16,18,20,22],"tickSize":8,"labels":false,"title":"0","titleFont":"Liberation Sans","titleFontWeight":"bold","titleFontSize":8,"titleAlign":"left","titleX":-250,"titleY":28}}}},
  {"data":{"name":"C"},"mark":{"type":"point","opacity":0},
   "encoding":{
    "x":{"field":"x","type":"quantitative","scale":{"domain":[-3.5,10.5],"nice":false,"zero":false},"axis":{"ticks":true,"tickColor":"black","tickWidth":1.2,"tickOpacity":1,"zindex":1,"orient":"top","offset":-4.5,"values":[-3,-2.5,-2,-1.5,-1,-0.5,0,0.5,1,1.5,2,2.5,3,3.5,4,4.5,5,5.5,6,6.5,7,7.5,8,8.5,9,9.5,10],"tickSize":4.5,"labels":false,"title":"(c)","titleFont":"Liberation Sans","titleFontSize":17,"titleAlign":"center","titleBaseline":"middle","titleX":197.5,"titleY":12}},
    "y":{"field":"y","type":"quantitative","scale":{"domain":[15.5,22.5],"nice":false,"zero":false},"axis":{"ticks":true,"tickColor":"black","tickWidth":1.2,"tickOpacity":1,"zindex":1,"orient":"right","offset":-4.5,"values":[16,16.5,17,17.5,18,18.5,19,19.5,20,20.5,21,21.5,22],"tickSize":4.5,"labels":false,"title":"0,i","titleFont":"Liberation Sans","titleFontWeight":"bold","titleFontSize":8,"titleAlign":"left","titleX":-254.5,"titleY":36}}}},
  {"data":{"name":"C"},"mark":{"type":"point","opacity":0},
   "encoding":{
    "x":{"field":"x","type":"quantitative","scale":{"domain":[-3.5,10.5],"nice":false,"zero":false},"axis":{"ticks":true,"tickColor":"black","tickWidth":1.2,"tickOpacity":1,"zindex":1,"orient":"bottom","offset":-8,"values":[-2,0,2,4,6,8,10],"tickSize":8,"labels":false,"title":null}},
    "y":{"field":"y","type":"quantitative","scale":{"domain":[15.5,22.5],"nice":false,"zero":false},"axis":{"ticks":true,"tickColor":"black","tickWidth":1.2,"tickOpacity":1,"zindex":1,"orient":"left","offset":-8,"values":[16,18,20,22],"tickSize":8,"labels":false,"title":null}}}},
  {"data":{"name":"C"},"mark":{"type":"point","filled":false,"strokeWidth":1.1,"opacity":1},
   "encoding":{
    "x":{"field":"x","type":"quantitative","scale":{"domain":[-3.5,10.5],"nice":false,"zero":false},"axis":{"orient":"bottom","ticks":false,"tickSize":0,"values":[-2,0,2,4,6,8,10],"labelPadding":7,"title":"Type","titleFontSize":16,"titleAlign":"center","titleX":103.5,"titleY":34}},
    "y":{"field":"y","type":"quantitative","scale":{"domain":[15.5,22.5],"nice":false,"zero":false},"axis":{"orient":"left","ticks":false,"tickSize":0,"values":[16,18,20,22],"labelPadding":9,"title":"(K)","titleFontSize":16,"titleAlign":"left","titleX":-29,"titleY":38}},
    "color":{"field":"g","type":"nominal","scale":{"domain":["B","G","R"],"range":["#0000ff","#00ee00","#ff0000"]},"legend":null},
    "shape":{"field":"g","type":"nominal","scale":{"domain":["B","G","R"],"range":["M-1,-1L1,1M-1,1L1,-1","M-1,0L1,0M0,-1L0,1","circle"]},"legend":null},
    "size":{"field":"g","type":"nominal","scale":{"domain":["B","G","R"],"range":[36,49,45]},"legend":null}}}
 ]},
{"width":220,"height":151,"resolve":{"axis":{"x":"independent","y":"independent"}},
 "layer":[
  {"data":{"name":"D"},"mark":{"type":"point","opacity":0},
   "encoding":{
    "x":{"field":"x","type":"quantitative","scale":{"domain":[-23,-15.25],"nice":false,"zero":false},"axis":{"ticks":true,"tickColor":"black","tickWidth":1.2,"tickOpacity":1,"zindex":1,"orient":"bottom","offset":-4.5,"values":[-22.5,-22,-21.5,-21,-20.5,-20,-19.5,-19,-18.5,-18,-17.5,-17,-16.5,-16,-15.5],"tickSize":4.5,"labels":false,"title":"0,i","titleFont":"Liberation Sans","titleFontWeight":"bold","titleFontSize":8,"titleAlign":"left","titleX":110,"titleY":24.5}},
    "y":{"field":"y","type":"quantitative","scale":{"domain":[15.5,22.5],"nice":false,"zero":false},"axis":{"ticks":true,"tickColor":"black","tickWidth":1.2,"tickOpacity":1,"zindex":1,"orient":"left","offset":-4.5,"values":[16,16.5,17,17.5,18,18.5,19,19.5,20,20.5,21,21.5,22],"tickSize":4.5,"labels":false,"title":null}}}},
  {"data":{"name":"D"},"mark":{"type":"point","opacity":0},
   "encoding":{
    "x":{"field":"x","type":"quantitative","scale":{"domain":[-23,-15.25],"nice":false,"zero":false},"axis":{"ticks":true,"tickColor":"black","tickWidth":1.2,"tickOpacity":1,"zindex":1,"orient":"top","offset":-8,"values":[-22,-20,-18,-16],"tickSize":8,"labels":false,"title":"B","titleFont":"Liberation Sans","titleFontWeight":"bold","titleFontSize":9,"titleAlign":"left","titleX":110,"titleY":174}},
    "y":{"field":"y","type":"quantitative","scale":{"domain":[15.5,22.5],"nice":false,"zero":false},"axis":{"ticks":true,"tickColor":"black","tickWidth":1.2,"tickOpacity":1,"zindex":1,"orient":"right","offset":-8,"values":[16,18,20,22],"tickSize":8,"labels":false,"title":null}}}},
  {"data":{"name":"D"},"mark":{"type":"point","opacity":0},
   "encoding":{
    "x":{"field":"x","type":"quantitative","scale":{"domain":[-23,-15.25],"nice":false,"zero":false},"axis":{"ticks":true,"tickColor":"black","tickWidth":1.2,"tickOpacity":1,"zindex":1,"orient":"top","offset":-4.5,"values":[-22.5,-22,-21.5,-21,-20.5,-20,-19.5,-19,-18.5,-18,-17.5,-17,-16.5,-16,-15.5],"tickSize":4.5,"labels":false,"title":"(d)","titleFont":"Liberation Sans","titleFontSize":17,"titleAlign":"center","titleBaseline":"middle","titleX":197,"titleY":23}},
    "y":{"field":"y","type":"quantitative","scale":{"domain":[15.5,22.5],"nice":false,"zero":false},"axis":{"ticks":true,"tickColor":"black","tickWidth":1.2,"tickOpacity":1,"zindex":1,"orient":"right","offset":-4.5,"values":[16,16.5,17,17.5,18,18.5,19,19.5,20,20.5,21,21.5,22],"tickSize":4.5,"labels":false,"title":null}}}},
  {"data":{"name":"D"},"mark":{"type":"point","opacity":0},
   "encoding":{
    "x":{"field":"x","type":"quantitative","scale":{"domain":[-23,-15.25],"nice":false,"zero":false},"axis":{"ticks":true,"tickColor":"black","tickWidth":1.2,"tickOpacity":1,"zindex":1,"orient":"bottom","offset":-8,"values":[-22,-20,-18,-16],"tickSize":8,"labels":false,"title":null}},
    "y":{"field":"y","type":"quantitative","scale":{"domain":[15.5,22.5],"nice":false,"zero":false},"axis":{"ticks":true,"tickColor":"black","tickWidth":1.2,"tickOpacity":1,"zindex":1,"orient":"left","offset":-8,"values":[16,18,20,22],"tickSize":8,"labels":false,"title":null}}}},
  {"data":{"name":"D"},"mark":{"type":"point","filled":false,"strokeWidth":1.1,"opacity":1},
   "encoding":{
    "x":{"field":"x","type":"quantitative","scale":{"domain":[-23,-15.25],"nice":false,"zero":false},"axis":{"orient":"bottom","ticks":false,"tickSize":0,"values":[-22,-20,-18,-16],"labelPadding":7,"title":"M","titleFontSize":15,"titleAlign":"center","titleX":102.5,"titleY":31}},
    "y":{"field":"y","type":"quantitative","scale":{"domain":[15.5,22.5],"nice":false,"zero":false},"axis":{"orient":"left","ticks":false,"tickSize":0,"values":[16,18,20,22],"labelPadding":9,"title":null}},
    "color":{"field":"g","type":"nominal","scale":{"domain":["B","G","R"],"range":["#0000ff","#00ee00","#ff0000"]},"legend":null},
    "shape":{"field":"g","type":"nominal","scale":{"domain":["B","G","R"],"range":["M-1,-1L1,1M-1,1L1,-1","M-1,0L1,0M0,-1L0,1","circle"]},"legend":null},
    "size":{"field":"g","type":"nominal","scale":{"domain":["B","G","R"],"range":[36,49,45]},"legend":null}}}
 ]}
]
}
